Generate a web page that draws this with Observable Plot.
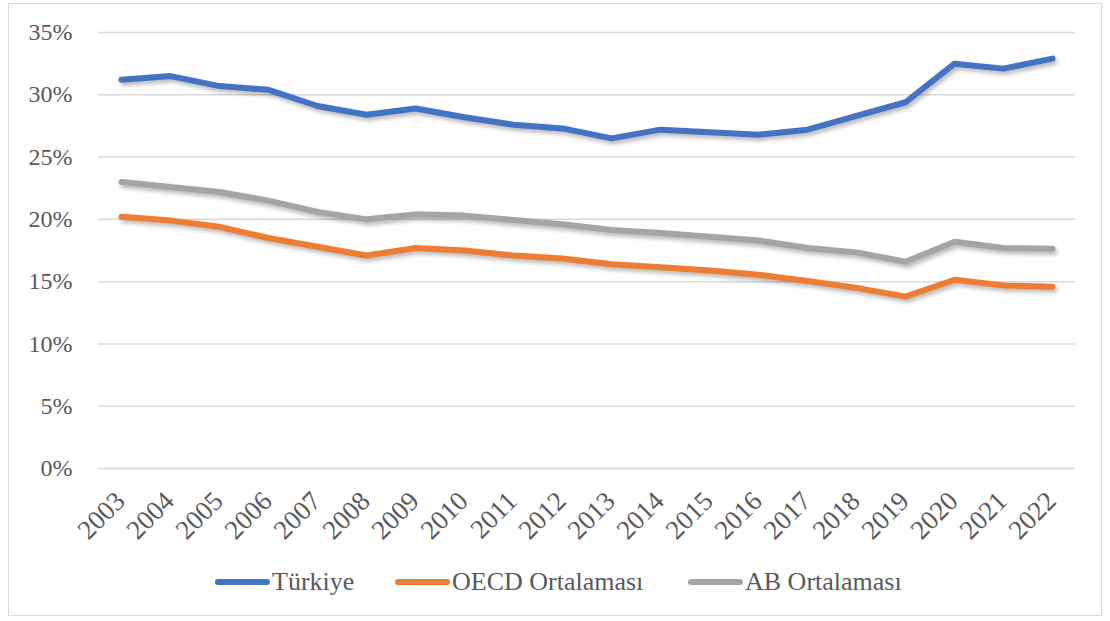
<!DOCTYPE html>
<html>
<head>
<meta charset="utf-8">
<script src="https://cdn.jsdelivr.net/npm/d3@7"></script>
<script src="https://cdn.jsdelivr.net/npm/@observablehq/plot@0.6"></script>
<style>
  * { font-family: 'Liberation Serif', serif !important; }
  html, body { margin: 0; padding: 0; background: #fff; }
  #wrap { position: relative; width: 1110px; height: 621px; overflow: hidden; }
  #frame { position: absolute; left: 8px; top: 3px; width: 1094px; height: 613px; border: 1.5px solid #d9d9d9; box-sizing: border-box; }
  #chart { position: absolute; left: 0; top: 0; }
  #chart svg g[aria-label="line"] { filter: drop-shadow(2px 3px 2px rgba(0,0,0,0.28)); }
  #legend { position: absolute; top: 566px; left: 0; width: 1110px; height: 32px; font-size: 26px; color: #595959; }
  .item { position: absolute; top: 0; display: flex; align-items: center; height: 32px; }
  .sw { width: 55px; height: 6px; border-radius: 3px; margin-right: 2px; }
</style>
</head>
<body>
<div id="wrap">
  <div id="frame"></div>
  <div id="chart"></div>
  <div id="legend"></div>
</div>
<script>
const years = ["2003","2004","2005","2006","2007","2008","2009","2010","2011","2012","2013","2014","2015","2016","2017","2018","2019","2020","2021","2022"];
const turkiye = [31.2,31.5,30.7,30.4,29.1,28.4,28.9,28.2,27.6,27.3,26.5,27.2,27.0,26.8,27.2,28.3,29.4,32.5,32.1,32.9];
const oecd    = [20.2,19.9,19.4,18.5,17.8,17.1,17.7,17.5,17.1,16.85,16.4,16.15,15.9,15.55,15.05,14.5,13.8,15.15,14.7,14.6];
const ab      = [23.0,22.6,22.2,21.5,20.6,20.0,20.4,20.3,19.95,19.6,19.15,18.9,18.6,18.3,17.7,17.35,16.6,18.2,17.7,17.65];
const seriesNames = ["Türkiye","OECD Ortalaması","AB Ortalaması"];
const seriesColors = ["#4472C4","#ED7D31","#A5A5A5"];
const yTicks = [0,5,10,15,20,25,30,35];

const table = [];
[turkiye, oecd, ab].forEach((vals, i) => {
  vals.forEach((v, j) => table.push({year: years[j], value: v, series: seriesNames[i]}));
});

const chart = Plot.plot({
  width: 1110,
  height: 545,
  marginLeft: 98,
  marginRight: 35,
  marginTop: 32,
  marginBottom: 77,
  style: { fontFamily: "'Liberation Serif', serif", fontSize: "25px", color: "#595959", background: "transparent" },
  x: { type: "point", domain: years, range: [121, 1052], padding: 0, label: null },
  y: { domain: [0, 35], label: null },
  color: { domain: seriesNames, range: seriesColors },
  marks: [
    Plot.gridY(yTicks, { stroke: "#d9d9d9", strokeOpacity: 1, strokeWidth: 1.5 }),
    Plot.axisY(yTicks, { tickSize: 0, tickPadding: 26, tickFormat: d => d + "%", fill: "#595959", fontSize: 24 }),
    Plot.axisX({ tickSize: 0, tickPadding: 28, tickRotate: -45, dx: -1, fill: "#595959", fontSize: 27, label: null }),
    Plot.line(table, { x: "year", y: "value", z: "series", stroke: "series", strokeWidth: 6, strokeLinecap: "round", strokeLinejoin: "round" })
  ]
});
document.getElementById("chart").appendChild(chart);

const legendPos = [215, 395, 688];
const legend = document.getElementById("legend");
seriesNames.forEach((name, i) => {
  const item = document.createElement("div");
  item.className = "item";
  item.style.left = legendPos[i] + "px";
  const sw = document.createElement("div");
  sw.className = "sw";
  sw.style.background = seriesColors[i];
  const t = document.createElement("span");
  t.textContent = name;
  item.appendChild(sw);
  item.appendChild(t);
  legend.appendChild(item);
});
</script>
</body>
</html>
